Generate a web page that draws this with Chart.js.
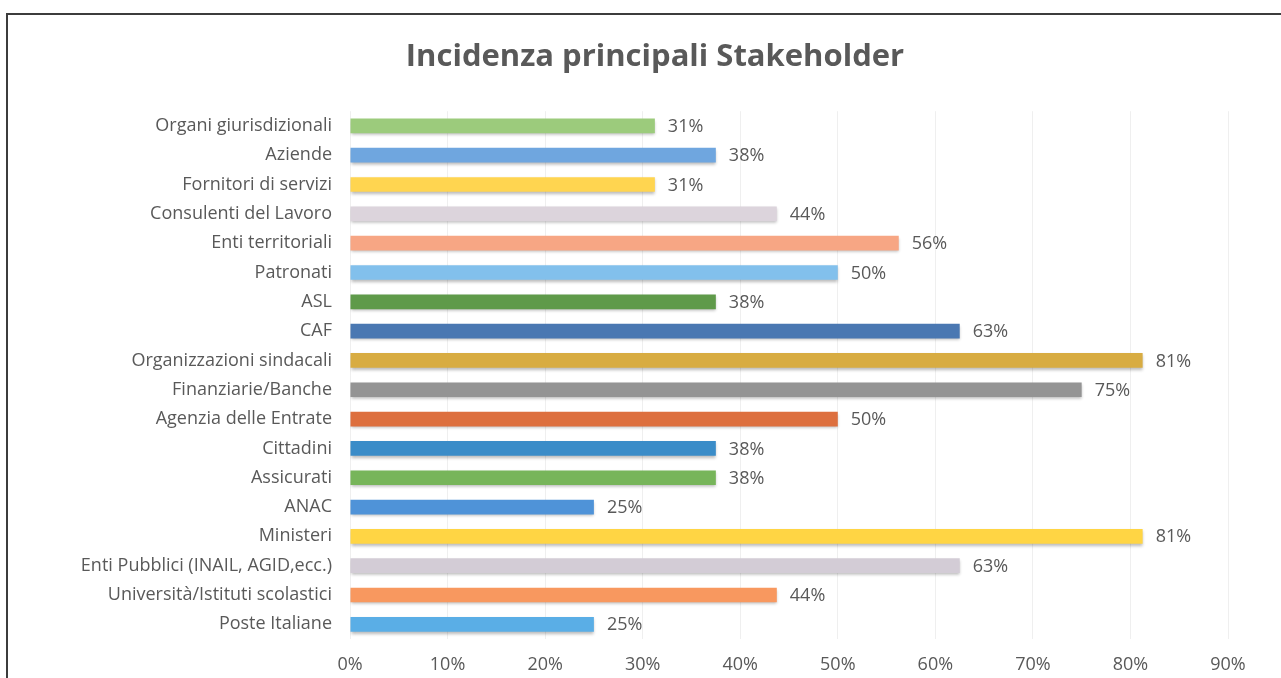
<!DOCTYPE html>
<html>
<head>
<meta charset="utf-8">
<script src="https://cdn.jsdelivr.net/npm/chart.js@4.4.1/dist/chart.umd.min.js"></script>
<style>
  body { margin: 0; background: #fff; overflow: hidden; }
  #wrap { position: relative; width: 1281px; height: 678px; }
  #frame {
    position: absolute; left: 6px; top: 13px; width: 1300px; height: 700px;
    border-top: 2px solid #3c3c3c; border-left: 2px solid #3c3c3c;
    pointer-events: none;
  }
  canvas { position: absolute; left: 0; top: 0; }
</style>
</head>
<body>
<div id="wrap">
  <canvas id="myChart" width="1281" height="678"></canvas>
  <div id="frame"></div>
</div>
<script>
// DATA
const categories = [
    'Organi giurisdizionali',
    'Aziende',
    'Fornitori di servizi',
    'Consulenti del Lavoro',
    'Enti territoriali',
    'Patronati',
    'ASL',
    'CAF',
    'Organizzazioni sindacali',
    'Finanziarie/Banche',
    'Agenzia delle Entrate',
    'Cittadini',
    'Assicurati',
    'ANAC',
    'Ministeri',
    'Enti Pubblici (INAIL, AGID,ecc.)',
    'Università/Istituti scolastici',
    'Poste Italiane'
];
const values = [31.25, 37.5, 31.25, 43.75, 56.25, 50, 37.5, 62.5, 81.25, 75, 50, 37.5, 37.5, 25, 81.25, 62.5, 43.75, 25];
const tickValues = [0, 10, 20, 30, 40, 50, 60, 70, 80, 90];

var barColors = [
    "#9CCB7C", "#6FA6DF", "#FFD550", "#DCD4DC", "#F7A684", "#82C0EC",
    "#5F9A4A", "#4A78B2", "#D8AC42", "#949494", "#DD6F3E", "#3A8CC8",
    "#77B55A", "#4F93D8", "#FFD544", "#D3CCD6", "#F8985F", "#5AAEE6"
];

const textColor = '#595959';
const fontFam = '"Open Sans", "DejaVu Sans", sans-serif';

// shadow under bars + value labels at the end of each bar
const barExtras = {
    id: 'barExtras',
    beforeDatasetsDraw(chart) {
        const ctx = chart.ctx;
        ctx.save();
        ctx.shadowColor = 'rgba(0,0,0,0.28)';
        ctx.shadowBlur = 3;
        ctx.shadowOffsetY = 2;
    },
    afterDatasetsDraw(chart) {
        const ctx = chart.ctx;
        ctx.restore();
        ctx.save();
        ctx.font = '18px ' + fontFam;
        ctx.fillStyle = textColor;
        ctx.textAlign = 'left';
        ctx.textBaseline = 'middle';
        chart.getDatasetMeta(0).data.forEach(function (bar, i) {
            ctx.fillText(Math.round(values[i]) + '%', bar.x + 13, bar.y + 1);
        });
        ctx.restore();
    }
};

const mainChart = new Chart("myChart", {
    type: "bar",
    data: {
        labels: categories,
        datasets: [{
            data: values,
            backgroundColor: barColors,
            borderWidth: 0,
            barPercentage: 0.5,
            categoryPercentage: 1
        }]
    },
    options: {
        indexAxis: 'y',
        responsive: false,
        animation: false,
        layout: { padding: { left: 82, right: 53, top: 0, bottom: 0 } },
        plugins: {
            legend: { display: false },
            tooltip: { enabled: false },
            title: {
                display: true,
                text: 'Incidenza principali Stakeholder',
                color: textColor,
                font: { family: fontFam, size: 31, weight: 'bold' },
                padding: { top: 39, bottom: 35 }
            }
        },
        scales: {
            x: {
                min: 0,
                max: 90,
                afterBuildTicks(scale) {
                    scale.ticks = tickValues.map(v => ({ value: v }));
                },
                afterFit(scale) { scale.height = 39; },
                grid: { color: '#efefef', drawTicks: false },
                border: { display: false },
                ticks: {
                    padding: 15,
                    color: textColor,
                    font: { family: fontFam, size: 18 },
                    callback: v => v + '%'
                }
            },
            y: {
                afterFit(scale) { scale.width = 268; },
                grid: { display: false, drawTicks: false },
                border: { display: false },
                ticks: {
                    padding: 18,
                    color: textColor,
                    font: { family: fontFam, size: 18 }
                }
            }
        }
    },
    plugins: [barExtras]
});
</script>
</body>
</html>
